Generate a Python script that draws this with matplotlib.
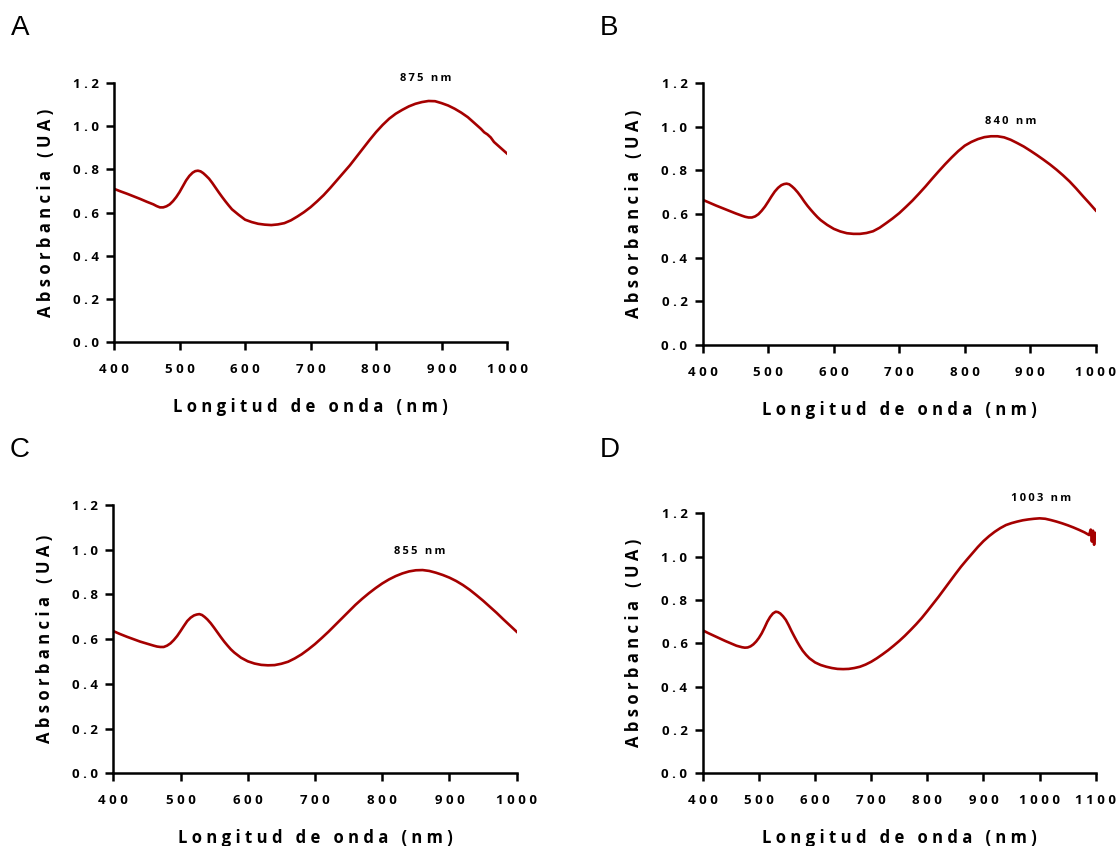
import numpy as np
import matplotlib
matplotlib.use("Agg")
import matplotlib.pyplot as plt

plt.rcParams['font.family'] = ['Open Sans', 'DejaVu Sans']

# Panel A (peak 875 nm)
wl_a = [400, 410, 420, 430, 440, 450, 460, 465, 470, 475, 480, 485, 490, 495, 500, 505,
        510, 515, 520, 524, 528, 532, 536, 540, 545, 550, 555, 560, 565, 570, 575, 580,
        590, 600, 610, 620, 630, 640, 650, 660, 670, 680, 690, 700, 710, 720, 730, 740,
        750, 760, 770, 780, 790, 800, 810, 820, 830, 840, 850, 860, 870, 880, 890, 900,
        910, 920, 930, 940, 950, 960, 965, 970, 975, 980, 990, 1000]
abs_a = [0.710, 0.698, 0.687, 0.675, 0.663, 0.650, 0.638, 0.630, 0.624, 0.624, 0.629, 0.638,
         0.653, 0.672, 0.695, 0.722, 0.749, 0.770, 0.785, 0.792, 0.794, 0.791, 0.783, 0.772,
         0.757, 0.737, 0.715, 0.693, 0.672, 0.652, 0.633, 0.615, 0.590, 0.567, 0.556, 0.548,
         0.544, 0.542, 0.545, 0.551, 0.564, 0.582, 0.602, 0.625, 0.652, 0.681, 0.714, 0.749,
         0.784, 0.819, 0.858, 0.897, 0.936, 0.973, 1.006, 1.035, 1.058, 1.076, 1.092, 1.104,
         1.112, 1.117, 1.116, 1.107, 1.096, 1.081, 1.063, 1.042, 1.015, 0.988, 0.972, 0.962,
         0.948, 0.927, 0.900, 0.873]

# Panel B (peak 840 nm)
wl_b = [400, 410, 420, 430, 440, 450, 460, 465, 470, 475, 480, 485, 490, 495, 500, 505,
        510, 515, 520, 524, 528, 532, 536, 540, 545, 550, 555, 560, 565, 570, 575, 580,
        590, 600, 610, 620, 630, 640, 650, 660, 670, 680, 690, 700, 710, 720, 730, 740,
        750, 760, 770, 780, 790, 800, 810, 820, 830, 840, 850, 860, 870, 880, 890, 900,
        910, 920, 930, 940, 950, 960, 970, 980, 990, 1000]
abs_b = [0.665, 0.652, 0.639, 0.627, 0.615, 0.603, 0.592, 0.587, 0.584, 0.584, 0.589, 0.599,
         0.615, 0.634, 0.657, 0.681, 0.703, 0.720, 0.732, 0.737, 0.739, 0.736, 0.727, 0.716,
         0.699, 0.679, 0.657, 0.637, 0.619, 0.602, 0.586, 0.572, 0.550, 0.532, 0.520, 0.512,
         0.509, 0.509, 0.513, 0.521, 0.537, 0.558, 0.580, 0.604, 0.632, 0.661, 0.693, 0.726,
         0.761, 0.795, 0.828, 0.859, 0.888, 0.913, 0.930, 0.943, 0.952, 0.956, 0.956, 0.951,
         0.940, 0.925, 0.909, 0.890, 0.870, 0.849, 0.827, 0.803, 0.777, 0.749, 0.717, 0.683,
         0.650, 0.616]

# Panel C (peak 855 nm)
wl_c = [400, 410, 420, 430, 440, 450, 460, 465, 470, 475, 480, 485, 490, 495, 500, 505,
        510, 515, 520, 524, 528, 532, 536, 540, 545, 550, 555, 560, 565, 570, 575, 580,
        590, 600, 610, 620, 630, 640, 650, 660, 670, 680, 690, 700, 710, 720, 730, 740,
        750, 760, 770, 780, 790, 800, 810, 820, 830, 840, 850, 860, 870, 880, 890, 900,
        910, 920, 930, 940, 950, 960, 970, 980, 990, 1000]
abs_c = [0.636, 0.623, 0.611, 0.600, 0.589, 0.580, 0.571, 0.567, 0.565, 0.565, 0.571, 0.581,
         0.596, 0.614, 0.636, 0.659, 0.681, 0.696, 0.706, 0.710, 0.712, 0.708, 0.699, 0.688,
         0.671, 0.651, 0.630, 0.609, 0.589, 0.571, 0.554, 0.540, 0.517, 0.501, 0.491, 0.485,
         0.483, 0.484, 0.490, 0.499, 0.514, 0.532, 0.554, 0.578, 0.605, 0.633, 0.663, 0.693,
         0.723, 0.753, 0.780, 0.805, 0.828, 0.849, 0.867, 0.882, 0.894, 0.903, 0.908, 0.909,
         0.905, 0.897, 0.887, 0.875, 0.860, 0.842, 0.821, 0.797, 0.772, 0.745, 0.718, 0.689,
         0.661, 0.633]

# Panel D (peak 1003 nm, noisy tail)
wl_d = [400, 410, 420, 430, 440, 450, 460, 470, 475, 480, 485, 490, 495, 500, 505, 510,
        515, 520, 525, 530, 534, 538, 543, 548, 553, 558, 563, 568, 573, 578, 584, 590,
        600, 610, 620, 630, 640, 650, 660, 670, 680, 690, 700, 710, 720, 730, 740, 750,
        760, 770, 780, 790, 800, 810, 820, 830, 840, 850, 860, 870, 880, 890, 900, 910,
        920, 930, 940, 950, 960, 970, 980, 990, 1000, 1010, 1020, 1030, 1040, 1050, 1060,
        1070, 1080, 1088, 1091, 1093, 1095, 1097, 1099, 1100]
abs_d = [0.660, 0.647, 0.635, 0.623, 0.611, 0.600, 0.589, 0.582, 0.580, 0.581, 0.586, 0.595,
         0.608, 0.625, 0.646, 0.672, 0.700, 0.722, 0.738, 0.746, 0.744, 0.738, 0.725, 0.708,
         0.684, 0.657, 0.632, 0.608, 0.586, 0.566, 0.547, 0.531, 0.512, 0.500, 0.492, 0.486,
         0.482, 0.481, 0.482, 0.486, 0.492, 0.502, 0.515, 0.531, 0.549, 0.568, 0.589, 0.611,
         0.635, 0.661, 0.688, 0.717, 0.749, 0.782, 0.815, 0.850, 0.885, 0.920, 0.954, 0.985,
         1.015, 1.045, 1.072, 1.095, 1.115, 1.132, 1.146, 1.155, 1.162, 1.168, 1.172, 1.175,
         1.177, 1.175, 1.169, 1.162, 1.154, 1.145, 1.135, 1.124, 1.112, 1.100, 1.125, 1.070,
         1.120, 1.055, 1.110, 1.085]

panels = ["A", "B", "C", "D"]
peak_labels = ["875 nm", "840 nm", "855 nm", "1003 nm"]
y_ticks = [0.0, 0.2, 0.4, 0.6, 0.8, 1.0, 1.2]
x_ticks_short = [400, 500, 600, 700, 800, 900, 1000]
x_ticks_long = [400, 500, 600, 700, 800, 900, 1000, 1100]


def spaced(s, sep=" "):
    return sep.join(s)


fig = plt.figure(figsize=(11.16, 8.46), dpi=100)

boxes = [
    [0.1022, 0.5957, 0.3522, 0.3061],
    [0.6297, 0.5922, 0.3522, 0.3097],
    [0.1015, 0.0859, 0.3615, 0.3172],
    [0.6297, 0.0859, 0.3522, 0.3073],
]
series = [(wl_a, abs_a), (wl_b, abs_b), (wl_c, abs_c), (wl_d, abs_d)]
xticks = [x_ticks_short, x_ticks_short, x_ticks_short, x_ticks_long]
# peak label positions (data coords)
ann_pos = [(875, 1.22), (870, 1.025), (855, 0.99), (1003, 1.27)]
letter_pos = [(0.018, 0.967), (0.546, 0.967), (0.018, 0.468), (0.546, 0.468)]

for i in range(4):
    ax = fig.add_axes(boxes[i])
    wl, ab = series[i]
    ax.plot(wl, ab, color="#a50000", lw=1.9, solid_joinstyle="round")
    xt = xticks[i]
    ax.set_xlim(xt[0], xt[-1])
    ax.set_ylim(0, 1.2)
    ax.set_xticks(xt)
    ax.set_xticklabels([spaced(str(v)) for v in xt])
    ax.set_yticks(y_ticks)
    ax.set_yticklabels([spaced(f"{v:.1f}") for v in y_ticks])
    for s in ["top", "right"]:
        ax.spines[s].set_visible(False)
    for s in ["left", "bottom"]:
        ax.spines[s].set_linewidth(1.8)
    ax.tick_params(direction="out", length=6, width=1.8, labelsize=9.5)
    ax.tick_params(axis="x", pad=9)
    ax.tick_params(axis="y", pad=5)
    for lab in ax.get_xticklabels() + ax.get_yticklabels():
        lab.set_fontweight("bold")
    ax.set_xlabel(spaced("Longitud de onda (nm)"), fontsize=12, fontweight="bold",
                  labelpad=16)
    ax.set_ylabel(spaced("Absorbancia (UA)"), fontsize=12, fontweight="bold",
                  labelpad=13)
    ax.text(ann_pos[i][0], ann_pos[i][1], spaced(peak_labels[i], "\u2009"), fontsize=8,
            fontweight="bold", ha="center", va="center", clip_on=False)
    fig.text(letter_pos[i][0], letter_pos[i][1], panels[i], fontsize=20,
             family=["Liberation Sans", "DejaVu Sans"], ha="center", va="center")

fig.savefig("out.png", dpi=100)
